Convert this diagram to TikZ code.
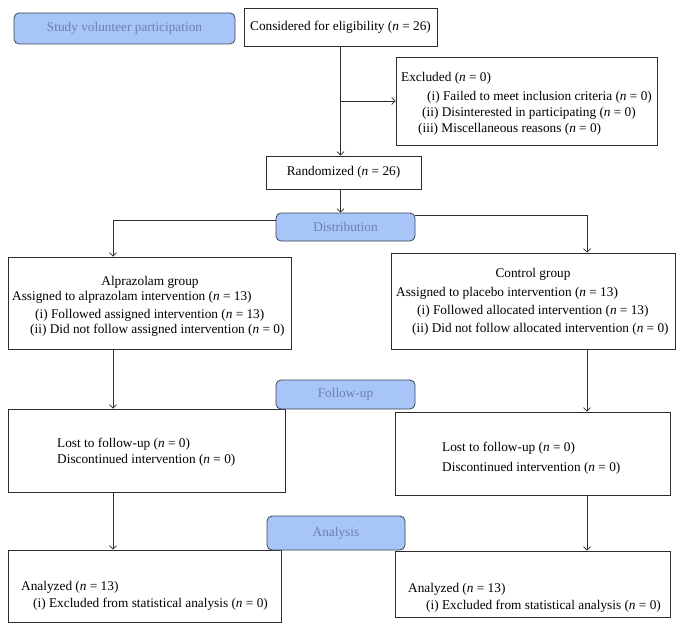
\documentclass[tikz,border=0pt]{standalone}
\usepackage{fontspec}
\setmainfont{Liberation Serif}
\usetikzlibrary{arrows.meta,backgrounds}
\definecolor{phasefill}{RGB}{168,197,248}
\definecolor{phasedraw}{RGB}{60,68,85}
\definecolor{phasetext}{RGB}{105,128,185}
\definecolor{linecol}{RGB}{45,45,45}
\begin{document}
\begin{tikzpicture}[x=1pt,y=-1pt,
  box/.style={draw=linecol, line width=0.8pt, inner sep=0pt, fill=white, font=\fontsize{13.3}{15}\selectfont},
  phase/.style={draw=phasedraw, fill=phasefill, rounded corners=5pt, line width=0.8pt, inner sep=0pt, text=phasetext, font=\fontsize{13.3}{15}\selectfont},
  txt/.style={anchor=base west, inner sep=0pt, font=\fontsize{13.3}{15}\selectfont},
  ctxt/.style={anchor=base, inner sep=0pt, font=\fontsize{13.3}{15}\selectfont},
  conn/.style={draw=linecol, line width=0.7pt},
  arr/.style={conn, -{Straight Barb[length=3.5pt,width=7pt]}},
]
\useasboundingbox (0,0) rectangle (684,631);

% boxes
\node[box, minimum width=193pt, minimum height=38pt] (consid) at (340.5,27) {Considered for eligibility (\textit{n} = 26)};
\node[box, minimum width=261pt, minimum height=88pt] (excl) at (526.5,101) {};
\node[box, minimum width=155pt, minimum height=33pt] (rand) at (343.5,172.5) {Randomized (\textit{n} = 26)};
\node[box, minimum width=283pt, minimum height=92pt] (alp) at (149.5,303) {};
\node[box, minimum width=284pt, minimum height=96pt] (ctl) at (533,301) {};
\node[box, minimum width=277pt, minimum height=83pt] (fuL) at (146.5,450.5) {};
\node[box, minimum width=275pt, minimum height=83pt] (fuR) at (532.5,453.5) {};
\node[box, minimum width=273pt, minimum height=72pt] (anL) at (144.5,586) {};
\node[box, minimum width=275pt, minimum height=66pt] (anR) at (532.5,584) {};

% phase labels
\node[phase, minimum width=221pt, minimum height=31pt] (study) at (124.5,28.5) {Study volunteer participation};
\node[phase, minimum width=139pt, minimum height=28pt] (distr) at (345.5,227) {Distribution};
\node[phase, minimum width=139pt, minimum height=29pt] (fu) at (345.5,394.5) {Follow-up};
\node[phase, minimum width=138pt, minimum height=34pt] (ana) at (336,533) {Analysis};

% texts
\node[txt] (ex0) at (401,81.5) {Excluded (\textit{n} = 0)};
\node[txt] (ex1) at (427,100.5) {(i) Failed to meet inclusion criteria (\textit{n} = 0)};
\node[txt] (ex2) at (422,116.5) {(ii) Disinterested in participating (\textit{n} = 0)};
\node[txt] (ex3) at (418,132.5) {(iii) Miscellaneous reasons (\textit{n} = 0)};

\node[ctxt] (al0) at (150,285.5) {Alprazolam group};
\node[txt] (al1) at (12,300.5) {Assigned to alprazolam intervention (\textit{n} = 13)};
\node[txt] (al2) at (35,318.5) {(i) Followed assigned intervention (\textit{n} = 13)};
\node[txt] (al3) at (30,333.5) {(ii) Did not follow assigned intervention (\textit{n} = 0)};

\node[ctxt] (ct0) at (533,277.5) {Control group};
\node[txt] (ct1) at (396,296.5) {Assigned to placebo intervention (\textit{n} = 13)};
\node[txt] (ct2) at (417,314.5) {(i) Followed allocated intervention (\textit{n} = 13)};
\node[txt] (ct3) at (412,332.5) {(ii) Did not follow allocated intervention (\textit{n} = 0)};

\node[txt] (fl1) at (57,447.5) {Lost to follow-up (\textit{n} = 0)};
\node[txt] (fl2) at (57,463.5) {Discontinued intervention (\textit{n} = 0)};
\node[txt] (fr1) at (442,451.5) {Lost to follow-up (\textit{n} = 0)};
\node[txt] (fr2) at (442,471.5) {Discontinued intervention (\textit{n} = 0)};

\node[txt] (al1b) at (21,590.5) {Analyzed (\textit{n} = 13)};
\node[txt] (al2b) at (33,607.5) {(i) Excluded from statistical analysis (\textit{n} = 0)};
\node[txt] (ar1) at (408,592.5) {Analyzed (\textit{n} = 13)};
\node[txt] (ar2) at (426,609.5) {(i) Excluded from statistical analysis (\textit{n} = 0)};

% column coordinates
\coordinate (Lx) at (113,0);
\coordinate (Rx) at (587,0);

\begin{scope}[on background layer]
\fill[white] (0,0) rectangle (684,631);
\draw[arr] (consid.south) -- (consid.south |- rand.north);
\coordinate (exjoin) at (consid.south |- excl.west);
\draw[arr] (exjoin) -- (excl.west);
\draw[arr] (consid.south |- rand.south) -- (consid.south |- distr.north);
\draw[arr] ([yshift=7pt]distr.west) -| (Lx |- alp.north);
\draw[arr] ([yshift=12pt]distr.east) -| (Rx |- ctl.north);
\draw[arr] (Lx |- alp.south) -- (Lx |- fuL.north);
\draw[arr] (Rx |- ctl.south) -- (Rx |- fuR.north);
\draw[arr] (Lx |- fuL.south) -- (Lx |- anL.north);
\draw[arr] (Rx |- fuR.south) -- (Rx |- anR.north);
\end{scope}
\end{tikzpicture}
\end{document}
